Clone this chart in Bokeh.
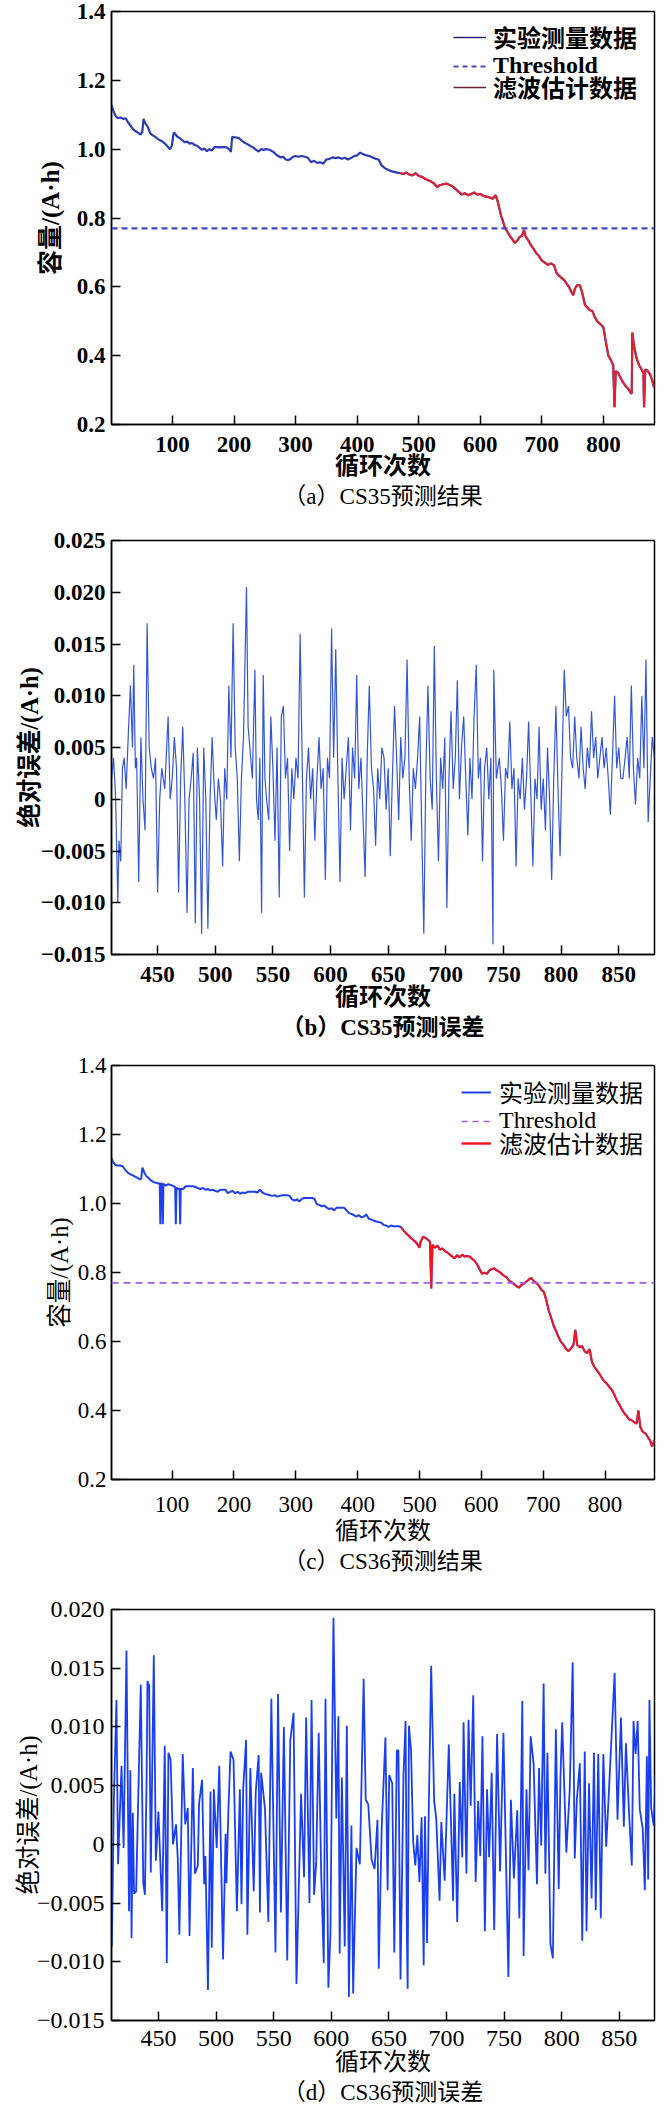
import numpy as np
from bokeh.plotting import figure
from bokeh.layouts import column
from bokeh.models import (FixedTicker, PrintfTickFormatter, Legend, LegendItem,
                          Title, Span)
from bokeh.embed import file_html
from bokeh.resources import INLINE

FONT = "Liberation Serif, Noto Sans CJK SC"

THRESHOLD = 0.77
EST_START = 470  # cycle where the filter estimate begins

# ---------------- CS35 capacity (A·h) ----------------
CS35_CYC = [1, 4, 8, 12, 16, 20, 24, 28, 32, 36, 40, 44, 48, 51, 53, 56, 60, 64, 68, 72,
            76, 80, 84, 88, 92, 96, 99, 102, 104, 108, 112, 116, 120, 124, 128, 132, 136, 140,
            144, 148, 152, 156, 160, 164, 168, 172, 176, 180, 184, 188, 192, 195, 197, 200,
            204, 208, 212, 216, 220, 224, 228, 232, 236, 240, 244, 248, 252, 256, 260, 264,
            268, 272, 276, 280, 284, 288, 292, 296, 300, 305, 310, 315, 320, 325, 330, 335,
            340, 345, 350, 355, 360, 365, 370, 375, 380, 385, 390, 395, 400, 405, 410, 415,
            420, 425, 430, 435, 440, 445, 450, 455, 460, 465, 470, 475, 480, 485, 490, 495,
            500, 505, 510, 515, 520, 525, 530, 535, 540, 545, 550, 555, 560, 565, 570, 575,
            580, 585, 590, 595, 600, 605, 610, 615, 620, 625, 628, 631, 634, 637, 640, 644,
            648, 652, 656, 660, 664, 668, 671, 674, 678, 682, 686, 690, 695, 700, 705, 710,
            715, 720, 724, 728, 732, 736, 740, 744, 748, 751, 754, 758, 762, 766, 770, 774,
            778, 782, 786, 790, 795, 800, 804, 808, 812, 816, 818, 820, 824, 828, 832, 836,
            840, 844, 846, 847, 850, 854, 858, 862, 865, 866, 868, 872, 876, 879, 882]
CS35_CAP = [1.128, 1.112, 1.095, 1.090, 1.092, 1.088, 1.090, 1.078, 1.068, 1.058, 1.052, 1.048,
            1.042, 1.050, 1.088, 1.075, 1.065, 1.046, 1.040, 1.036, 1.030, 1.026, 1.022, 1.016,
            1.008, 1.000, 1.010, 1.048, 1.045, 1.036, 1.032, 1.026, 1.020, 1.022, 1.016, 1.018,
            1.012, 1.010, 1.004, 0.998, 1.002, 0.994, 1.000, 0.996, 1.006, 1.006, 1.005, 1.006,
            1.006, 1.005, 1.000, 0.992, 1.036, 1.034, 1.034, 1.032, 1.026, 1.020, 1.016, 1.012,
            1.008, 1.004, 0.998, 0.993, 1.000, 0.998, 1.000, 0.999, 0.996, 0.992, 0.985, 0.980,
            0.976, 0.978, 0.970, 0.968, 0.972, 0.978, 0.980, 0.978, 0.980, 0.978, 0.975, 0.962,
            0.966, 0.960, 0.962, 0.958, 0.970, 0.972, 0.976, 0.974, 0.976, 0.972, 0.975, 0.970,
            0.974, 0.980, 0.982, 0.990, 0.985, 0.982, 0.980, 0.976, 0.972, 0.970, 0.952, 0.945,
            0.940, 0.936, 0.934, 0.932, 0.930, 0.928, 0.932, 0.926, 0.924, 0.930, 0.922, 0.920,
            0.914, 0.910, 0.906, 0.900, 0.890, 0.896, 0.898, 0.900, 0.896, 0.892, 0.884, 0.876,
            0.868, 0.872, 0.866, 0.870, 0.874, 0.868, 0.870, 0.864, 0.862, 0.860, 0.856, 0.866,
            0.850, 0.828, 0.805, 0.790, 0.772, 0.760, 0.748, 0.738, 0.728, 0.734, 0.745, 0.748,
            0.765, 0.745, 0.735, 0.722, 0.712, 0.700, 0.690, 0.676, 0.670, 0.664, 0.668, 0.662,
            0.640, 0.632, 0.626, 0.620, 0.610, 0.600, 0.585, 0.576, 0.596, 0.606, 0.604, 0.580,
            0.548, 0.540, 0.532, 0.530, 0.512, 0.500, 0.492, 0.482, 0.440, 0.400, 0.388, 0.372,
            0.250, 0.355, 0.350, 0.335, 0.322, 0.312, 0.305, 0.292, 0.290, 0.467, 0.425, 0.392,
            0.372, 0.360, 0.350, 0.250, 0.360, 0.356, 0.345, 0.330, 0.308]

# ---------------- CS35 prediction error ----------------
CS35_ERR_CYC = [410.0, 411.8, 413.6, 415.5, 416.5, 418.0, 419.5, 421.0, 422.7, 424.5, 426.4, 428.2,
                429.3, 430.7, 431.8, 433.6, 435.5, 437.3, 439.1, 440.9, 442.7, 444.5, 446.4, 448.2,
                450.0, 451.8, 453.6, 456.2, 459.1, 460.9, 462.7, 464.5, 466.4, 468.2, 470.0, 471.8,
                473.6, 475.5, 477.3, 479.1, 480.9, 482.7, 484.5, 486.4, 488.2, 490.0, 491.8, 493.6,
                495.5, 497.3, 499.1, 500.9, 502.7, 504.5, 506.4, 508.2, 510.0, 511.8, 513.6, 515.5,
                517.3, 519.1, 520.9, 522.7, 524.5, 527.1, 528.5, 530.0, 532.2, 534.4, 535.8, 537.3,
                538.7, 540.2, 541.6, 543.1, 544.5, 546.4, 548.2, 550.0, 551.8, 553.6, 555.5, 557.3,
                559.1, 560.9, 562.7, 564.5, 566.4, 568.2, 570.0, 571.8, 573.6, 575.5, 577.3, 579.1,
                580.9, 582.7, 584.5, 586.4, 588.2, 590.0, 591.8, 593.6, 595.5, 597.3, 599.1, 600.9,
                602.7, 604.5, 606.4, 608.2, 610.0, 611.8, 613.6, 615.5, 617.3, 619.1, 620.9, 622.7,
                624.5, 626.4, 628.2, 630.0, 631.8, 633.6, 635.5, 637.3, 639.1, 640.9, 642.7, 644.5,
                646.4, 648.2, 650.0, 651.8, 653.6, 655.5, 657.3, 659.1, 660.9, 662.7, 664.5, 666.4,
                668.2, 670.0, 671.8, 673.6, 675.5, 677.3, 679.1, 680.9, 682.7, 684.5, 686.4, 688.2,
                690.0, 691.8, 693.6, 695.5, 697.3, 699.1, 700.9, 702.7, 704.5, 706.4, 708.2, 710.0,
                711.8, 713.6, 715.5, 717.3, 719.1, 720.9, 722.7, 724.5, 726.4, 728.2, 730.0, 731.8,
                733.6, 735.5, 737.3, 739.1, 740.9, 741.6, 743.8, 746.4, 748.2, 750.0, 751.8, 753.6,
                755.5, 757.3, 759.1, 760.9, 762.7, 764.5, 766.4, 768.2, 770.0, 771.8, 773.6, 775.5,
                777.3, 779.1, 780.9, 782.7, 784.5, 786.4, 788.2, 790.0, 791.8, 793.6, 795.5, 797.3,
                799.1, 800.9, 802.7, 804.5, 806.4, 808.2, 810.0, 811.8, 813.6, 815.5, 817.3, 819.1,
                820.9, 822.7, 824.5, 826.4, 828.2, 830.0, 831.8, 833.6, 835.5, 837.3, 839.1, 840.9,
                842.7, 844.5, 846.4, 848.2, 850.0, 851.8, 853.6, 855.5, 857.3, 859.1, 860.9, 862.7,
                864.5, 866.4, 868.2, 870.0, 871.8, 873.6, 875.5, 877.3, 879.1, 880.9]
CS35_ERR = [0.002, 0.004, 0.0, -0.010, -0.004, -0.006, 0.003, 0.004, 0.001, 0.006, 0.011, 0.005,
            0.013, 0.003, 0.004, -0.008, 0.006, 0.0, -0.003, 0.017, 0.005, 0.003, 0.002, 0.004,
            -0.009, 0.0, 0.003, 0.001, 0.008, 0.0, 0.002, 0.006, 0.003, -0.009, 0.002, 0.007,
            0.0, -0.011, 0.0, 0.002, 0.0045, -0.012, 0.005, 0.0, -0.013, 0.005, 0.0, -0.0125,
            0.0, 0.006, 0.001, -0.002, 0.002, 0.0, -0.0065, 0.003, 0.0, 0.011, 0.004, 0.017,
            0.005, 0.002, -0.006, 0.002, 0.006, 0.0205, 0.007, 0.005, 0.002, 0.0125, 0.0, -0.002,
            0.004, -0.011, 0.012, 0.002, 0.0, -0.002, 0.008, 0.003, -0.004, 0.005, -0.0095, 0.008,
            0.009, 0.002, 0.004, -0.005, 0.003, 0.0, 0.004, 0.002, 0.016, 0.003, -0.0095, 0.002,
            0.005, 0.0, 0.003, -0.004, 0.002, 0.006, 0.001, 0.003, -0.0078, 0.004, 0.002, 0.0165,
            0.004, 0.0145, 0.002, -0.008, 0.004, 0.0, 0.003, 0.006, -0.003, 0.005, 0.002, 0.012,
            0.001, 0.004, -0.002, -0.0075, 0.004, 0.011, 0.003, 0.001, -0.0045, 0.003, 0.0, 0.005,
            0.004, -0.001, 0.003, -0.0055, 0.002, 0.009, 0.004, -0.002, 0.006, 0.002, 0.004, 0.0135,
            0.002, -0.004, 0.003, 0.001, 0.004, 0.008, -0.003, -0.013, 0.003, 0.011, 0.002, -0.001,
            0.0148, 0.002, -0.006, 0.004, 0.001, 0.006, -0.0105, 0.002, 0.0085, 0.001, 0.004, 0.0115,
            0.0, 0.005, 0.008, 0.002, -0.0035, 0.004, 0.0, 0.008, 0.013, 0.002, 0.004, -0.006,
            0.003, 0.005, 0.0, 0.004, -0.014, 0.0125, 0.002, 0.004, 0.001, -0.004, 0.003, 0.002,
            0.0075, 0.001, 0.003, -0.0065, 0.002, 0.0, 0.004, -0.001, 0.002, 0.0075, 0.001, -0.0065,
            0.002, 0.0, 0.007, -0.001, 0.002, -0.003, 0.005, 0.0, -0.0078, 0.002, 0.009, 0.001,
            -0.0055, 0.004, 0.0125, 0.008, 0.009, 0.004, 0.003, 0.008, 0.004, 0.002, 0.007, 0.003,
            0.001, 0.005, 0.003, 0.0085, 0.004, 0.006, 0.002, 0.004, 0.006, 0.003, 0.005, 0.002,
            -0.0015, 0.004, 0.010, 0.003, 0.005, 0.002, 0.002, 0.004, 0.006, 0.002, 0.011, 0.003,
            -0.0005, 0.004, 0.002, 0.010, 0.003, 0.0135, -0.0022, 0.002, 0.006, 0.004]

# ---------------- CS36 capacity (A·h) ----------------
CS36_CYC = [1, 4, 8, 12, 16, 20, 24, 28, 32, 36, 40, 44, 48, 50, 52, 55, 58, 62, 66, 70, 74, 78,
            80, 81, 82, 84, 85, 86, 90, 94, 98, 102, 105, 106, 107, 110, 112, 113, 114, 118, 122,
            126, 130, 134, 138, 142, 146, 150, 154, 158, 162, 166, 170, 174, 178, 182, 186, 190,
            194, 198, 202, 206, 210, 214, 218, 222, 226, 230, 234, 238, 242, 246, 250, 254, 258,
            262, 266, 270, 274, 278, 282, 286, 290, 294, 298, 302, 306, 310, 314, 318, 322, 326,
            330, 334, 338, 342, 346, 350, 354, 358, 362, 366, 370, 374, 378, 382, 386, 390, 394,
            398, 402, 406, 410, 414, 418, 422, 426, 430, 434, 438, 442, 446, 450, 454, 458, 462,
            466, 470, 474, 478, 482, 486, 490, 494, 498, 500, 502, 506, 510, 514, 517, 519, 521,
            525, 529, 533, 537, 541, 545, 549, 553, 557, 561, 565, 569, 573, 577, 581, 585, 589,
            593, 597, 601, 605, 609, 613, 617, 621, 625, 629, 633, 637, 641, 645, 649, 653, 657,
            661, 665, 669, 673, 677, 681, 685, 689, 693, 697, 701, 705, 709, 713, 717, 721, 725,
            729, 733, 737, 741, 745, 749, 752, 755, 759, 763, 767, 771, 775, 779, 783, 787, 791,
            795, 799, 803, 807, 811, 815, 819, 823, 827, 831, 835, 839, 843, 847, 851, 854, 857,
            861, 865, 869, 873, 876, 880]
CS36_CAP = [1.135, 1.122, 1.112, 1.110, 1.110, 1.108, 1.098, 1.090, 1.085, 1.082, 1.078, 1.074,
            1.070, 1.072, 1.104, 1.090, 1.080, 1.074, 1.066, 1.062, 1.060, 1.058, 1.058, 0.940,
            1.058, 1.057, 0.940, 1.057, 1.052, 1.056, 1.054, 1.050, 1.048, 0.940, 1.046, 1.042,
            1.044, 0.940, 1.043, 1.042, 1.050, 1.050, 1.050, 1.050, 1.048, 1.044, 1.042, 1.045,
            1.040, 1.042, 1.038, 1.040, 1.036, 1.034, 1.040, 1.040, 1.040, 1.030, 1.034, 1.036,
            1.030, 1.034, 1.028, 1.032, 1.030, 1.034, 1.034, 1.034, 1.034, 1.032, 1.040, 1.032,
            1.028, 1.026, 1.024, 1.022, 1.024, 1.020, 1.022, 1.024, 1.024, 1.024, 1.022, 1.012,
            1.008, 1.012, 1.006, 1.014, 1.016, 1.016, 1.016, 1.016, 1.014, 0.998, 0.996, 0.992,
            0.994, 0.988, 0.984, 0.986, 0.980, 0.988, 0.988, 0.988, 0.988, 0.980, 0.972, 0.970,
            0.966, 0.962, 0.966, 0.960, 0.962, 0.968, 0.956, 0.954, 0.950, 0.948, 0.946, 0.944,
            0.938, 0.936, 0.932, 0.936, 0.934, 0.934, 0.934, 0.932, 0.922, 0.914, 0.908, 0.900,
            0.894, 0.888, 0.878, 0.872, 0.890, 0.904, 0.900, 0.894, 0.890, 0.754, 0.880, 0.872,
            0.878, 0.866, 0.870, 0.862, 0.858, 0.852, 0.846, 0.842, 0.850, 0.844, 0.852, 0.846,
            0.848, 0.846, 0.840, 0.834, 0.824, 0.810, 0.796, 0.800, 0.796, 0.806, 0.810, 0.812,
            0.806, 0.802, 0.796, 0.790, 0.786, 0.776, 0.772, 0.766, 0.760, 0.756, 0.764, 0.768,
            0.774, 0.780, 0.784, 0.774, 0.770, 0.762, 0.750, 0.744, 0.720, 0.690, 0.668, 0.645,
            0.630, 0.612, 0.598, 0.590, 0.578, 0.572, 0.580, 0.590, 0.634, 0.590, 0.584, 0.586,
            0.572, 0.566, 0.578, 0.540, 0.526, 0.516, 0.506, 0.494, 0.484, 0.478, 0.468, 0.460,
            0.446, 0.430, 0.418, 0.404, 0.392, 0.384, 0.374, 0.372, 0.366, 0.362, 0.400, 0.352,
            0.338, 0.334, 0.324, 0.312, 0.296, 0.314]

# ---------------- CS36 prediction error ----------------
CS36_ERR_CYC = [409.6, 411.4, 413.6, 415.0, 418.0, 419.8, 422.3, 424.5, 425.6, 426.7, 427.8, 428.9,
                430.7, 434.7, 436.9, 438.3, 439.8, 440.5, 442.0, 443.4, 446.0, 447.8, 450.0, 453.3,
                455.5, 457.3, 458.7, 460.6, 462.7, 465.3, 466.8, 468.2, 471.1, 473.3, 475.5, 477.0,
                479.9, 481.7, 484.2, 485.3, 487.9, 489.7, 490.8, 493.0, 495.2, 496.3, 498.1, 500.6,
                502.8, 506.1, 508.3, 509.0, 510.8, 512.6, 515.2, 518.1, 520.7, 522.1, 523.6, 526.1,
                527.2, 529.8, 532.7, 534.5, 537.0, 538.1, 539.2, 542.5, 545.4, 548.0, 551.6, 553.8,
                556.3, 558.9, 561.8, 564.4, 567.3, 569.8, 573.8, 576.4, 578.2, 581.1, 582.9, 585.1,
                586.9, 589.1, 591.3, 593.5, 595.0, 597.5, 599.3, 601.9, 604.4, 606.2, 607.3, 609.2,
                611.7, 613.5, 615.3, 617.5, 619.0, 621.9, 624.8, 628.1, 629.9, 632.1, 635.0, 637.6,
                640.1, 641.2, 643.8, 647.0, 648.9, 650.3, 652.9, 654.7, 656.9, 658.3, 660.1, 662.7,
                664.5, 665.6, 666.3, 667.4, 669.2, 671.1, 672.9, 674.7, 676.5, 678.4, 680.2, 681.3,
                683.1, 684.5, 686.7, 689.3, 691.1, 694.0, 695.5, 698.4, 702.0, 703.8, 705.7, 706.8,
                709.3, 711.5, 713.7, 714.8, 717.3, 719.1, 721.0, 723.2, 725.3, 727.5, 729.3, 731.2,
                733.3, 735.2, 737.0, 739.2, 741.4, 743.9, 746.5, 749.4, 753.7, 755.9, 758.5, 761.4,
                763.2, 765.8, 766.9, 769.4, 771.2, 773.0, 775.6, 778.5, 780.3, 782.2, 784.3, 785.8,
                787.6, 790.2, 792.3, 794.9, 797.4, 798.9, 800.4, 804.0, 806.9, 809.5, 811.3, 813.1,
                815.7, 817.8, 820.0, 821.5, 823.7, 825.9, 828.0, 829.5, 831.7, 833.9, 836.1, 838.6,
                842.6, 845.9, 848.4, 851.4, 853.9, 855.7, 858.6, 860.8, 862.3, 864.1, 865.9, 867.7,
                870.3, 872.1, 873.9, 875.0, 876.1, 877.6, 879.8, 881.4]
CS36_ERR = [-0.0087, 0.0040, 0.0123, -0.0017, 0.0067, -0.0003, 0.0165, -0.0057, 0.0063, -0.0080,
            0.0027, -0.0042, -0.0040, 0.0136, -0.0033, -0.0043, 0.0060, 0.0139, 0.0135, -0.0024,
            0.0161, -0.0014, 0.0028, -0.0057, 0.0084, -0.0101, 0.0078, 0.0072, 0.0000, 0.0017,
            -0.0012, -0.0077, 0.0077, 0.0017, 0.0031, -0.0078, 0.0065, -0.0025, -0.0018, 0.0035,
            0.0055, -0.0034, -0.0010, -0.0124, 0.0045, -0.0088, 0.0047, -0.0003, 0.0067, -0.0098,
            0.0009, -0.0033, 0.0031, 0.0079, 0.0072, -0.0057, 0.0047, -0.0051, 0.0048, 0.0089,
            -0.0077, 0.0065, -0.0040, 0.0045, 0.0076, -0.0058, 0.0061, 0.0030, -0.0066, 0.0124,
            -0.0092, 0.0128, -0.0058, 0.0100, -0.0099, 0.0088, 0.0112, -0.0119, 0.0043, -0.0028,
            0.0108, -0.0050, 0.0123, -0.0043, -0.0016, 0.0095, -0.0026, -0.0101, 0.0124, -0.0122,
            -0.0076, 0.0193, 0.0022, 0.0109, -0.0093, 0.0057, -0.0087, 0.0101, -0.0130, 0.0016,
            -0.0127, -0.0003, -0.0017, 0.0141, 0.0038, 0.0034, -0.0013, -0.0021, 0.0021, -0.0106,
            0.0015, 0.0091, -0.0039, 0.0059, 0.0052, -0.0092, 0.0080, 0.0080, -0.0115, 0.0060,
            0.0105, -0.0076, -0.0123, 0.0101, 0.0081, 0.0002, -0.0018, 0.0008, -0.0032, 0.0023,
            -0.0103, 0.0024, -0.0084, 0.0022, 0.0152, 0.0037, 0.0022, -0.0048, 0.0019, -0.0031,
            0.0085, 0.0023, -0.0048, 0.0043, -0.0066, 0.0053, -0.0011, 0.0104, -0.0025, 0.0106,
            0.0033, 0.0127, -0.0032, 0.0037, -0.0010, 0.0092, -0.0074, 0.0047, -0.0011, 0.0061,
            -0.0073, 0.0094, -0.0023, 0.0095, -0.0113, 0.0038, -0.0029, 0.0029, -0.0063, 0.0122,
            -0.0095, 0.0047, -0.0022, 0.0092, 0.0069, -0.0034, 0.0065, -0.0001, 0.0137, -0.0025,
            0.0078, -0.0085, -0.0097, 0.0098, -0.0038, 0.0058, 0.0104, -0.0007, 0.0046, 0.0155,
            -0.0012, 0.0038, 0.0069, -0.0082, 0.0079, -0.0074, 0.0052, -0.0046, 0.0078, -0.0056,
            0.0077, -0.0063, 0.0077, -0.0002, 0.0079, 0.0146, 0.0021, 0.0108, 0.0015, 0.0086,
            0.0023, -0.0018, 0.0105, 0.0077, 0.0105, 0.0030, 0.0013, -0.0039, 0.0075, -0.0030,
            0.0123, 0.0031, 0.0016, 0.0059]

CAP_TICKS = [0.2, 0.4, 0.6, 0.8, 1.0, 1.2, 1.4]
ALL_CYCLE_TICKS = [100, 200, 300, 400, 500, 600, 700, 800]
ERR_CYCLE_TICKS = [450, 500, 550, 600, 650, 700, 750, 800, 850]
ERR_TICKS_B = [-0.015, -0.01, -0.005, 0, 0.005, 0.01, 0.015, 0.02, 0.025]
ERR_LABELS_B = ["\u22120.015", "\u22120.010", "\u22120.005", "0", "0.005", "0.010", "0.015",
                "0.020", "0.025"]
ERR_TICKS_D = [-0.015, -0.01, -0.005, 0, 0.005, 0.01, 0.015, 0.02]
ERR_LABELS_D = ["\u22120.015", "\u22120.010", "\u22120.005", "0", "0.005", "0.010", "0.015",
                "0.020"]

LEGEND_LABELS = ["实验测量数据", "Threshold", "滤波估计数据"]


def make_fig(height, borders, x_range, y_range):
    left, right, top, bottom = borders
    p = figure(width=666, height=height, x_range=x_range, y_range=y_range,
               output_backend="svg", toolbar_location=None,
               min_border_left=left, min_border_right=right,
               min_border_top=top, min_border_bottom=bottom)
    p.grid.visible = False
    p.outline_line_color = "black"
    p.outline_line_width = 1.5
    p.outline_line_alpha = 1.0
    p.background_fill_color = "white"
    p.border_fill_color = "white"
    return p


def style_axes(p, bold, tick_size, xticks, yticks, xlabel, ylabel, ylabel_size,
               y_standoff, x_standoff, ylab_standoff, xlab_standoff):
    style = "bold" if bold else "normal"
    for ax in (p.xaxis[0], p.yaxis[0]):
        ax.axis_line_color = "black"
        ax.axis_line_width = 1.5
        ax.major_tick_line_color = "black"
        ax.major_tick_line_width = 1.5
        ax.major_tick_in = 9
        ax.major_tick_out = 0
        ax.minor_tick_line_color = None
        ax.major_label_text_font = FONT
        ax.major_label_text_font_size = tick_size
        ax.major_label_text_font_style = style
        ax.major_label_text_color = "black"
        ax.axis_label_text_font = FONT
        ax.axis_label_text_font_style = style
        ax.axis_label_text_color = "black"
    p.xaxis.axis_label_text_font_size = "24px"
    p.yaxis.axis_label_text_font_size = ylabel_size
    p.xaxis.ticker = FixedTicker(ticks=xticks)
    p.yaxis.ticker = FixedTicker(ticks=yticks)
    p.xaxis.axis_label = xlabel
    p.yaxis.axis_label = ylabel
    p.yaxis.major_label_standoff = y_standoff
    p.xaxis.major_label_standoff = x_standoff
    p.yaxis.axis_label_standoff = ylab_standoff
    p.xaxis.axis_label_standoff = xlab_standoff


def add_caption(p, text, standoff, bold, size="23px"):
    p.add_layout(Title(text=text, align="center", offset=3, standoff=standoff,
                       text_font=FONT, text_font_size=size,
                       text_font_style="bold" if bold else "normal",
                       text_color="black"), "below")


def add_legend(p, colors, widths, dash, x, rows_y, glyph_w, standoff, bold):
    # one single-row legend per entry so that the row pitch is set exactly
    for lab, c, w, d, y in zip(LEGEND_LABELS, colors, widths, ["solid", dash, "solid"], rows_y):
        # legend-only renderer: nothing is drawn in the plot area
        r = p.line(x=np.array([np.nan]), y=np.array([np.nan]),
                   line_color=c, line_width=w, line_dash=d)
        lg = Legend(items=[LegendItem(label=lab, renderers=[r])], location=(x, y),
                    border_line_color=None, background_fill_alpha=0, padding=0, margin=0,
                    spacing=0, glyph_width=glyph_w, glyph_height=18, label_height=18,
                    label_standoff=standoff, label_text_font=FONT,
                    label_text_font_size="24px",
                    label_text_font_style="bold" if bold else "normal",
                    label_text_color="black")
        p.add_layout(lg)


def split_estimate(cyc, cap):
    xs = [c for c in cyc if c >= EST_START]
    ys = [v for c, v in zip(cyc, cap) if c >= EST_START]
    return xs, ys


# ---- (a) CS35 capacity ----
pa = make_fig(528, (107, 7, 11, 104), (1, 883), (0.2, 1.4))
pa.line(CS35_CYC, CS35_CAP, line_color="#2a3cb8", line_width=2.2)
ex, ey = split_estimate(CS35_CYC, CS35_CAP)
pa.line(ex, ey, line_color="#e8202a", line_width=2.0)
pa.add_layout(Span(location=THRESHOLD, dimension="width", line_color="#4848c4",
                   line_width=2.2, line_dash="6 4"))
style_axes(pa, True, "23px", ALL_CYCLE_TICKS, CAP_TICKS, "循环次数", "容量/(A·h)", "25px",
           6, 12, 10, -2)
pa.yaxis.formatter = PrintfTickFormatter(format="%.1f")
add_legend(pa, ["#2a2a6e", "#4a4ab8", "#6e2035"], [1.5, 2, 1.5], "5 4", 342,
           [370, 345, 320], 33, 7, True)
add_caption(pa, "（a）CS35预测结果", 0, False)

# ---- (b) CS35 error ----
pb = make_fig(517, (107, 8, 12, 91), (410, 881), (-0.015, 0.025))
pb.line(CS35_ERR_CYC, CS35_ERR, line_color="#3456d6", line_width=1.2)
style_axes(pb, True, "23px", ERR_CYCLE_TICKS, ERR_TICKS_B, "循环次数", "绝对误差/(A·h)",
           "24.5px", 6, 12, -5, -1)
pb.yaxis.major_label_overrides = dict(zip(ERR_TICKS_B, ERR_LABELS_B))
add_caption(pb, "（b）CS35预测误差", 0, True)

# ---- (c) CS36 capacity ----
pc = make_fig(535, (111, 1, 20, 101), (2, 880), (0.2, 1.4))
pc.line(CS36_CYC, CS36_CAP, line_color="#1e40f5", line_width=2)
ex, ey = split_estimate(CS36_CYC, CS36_CAP)
pc.line(ex, ey, line_color="#f5141e", line_width=2)
pc.add_layout(Span(location=THRESHOLD, dimension="width", line_color="#a25cf5",
                   line_width=1.6, line_dash="7 5"))
style_axes(pc, False, "23px", ALL_CYCLE_TICKS, CAP_TICKS, "循环次数", "容量/(A·h)", "24.5px",
           5, 17, 2, 3)
pc.yaxis.formatter = PrintfTickFormatter(format="%.1f")
add_legend(pc, ["#1e40f5", "#a25cf5", "#f5141e"], [2, 1.6, 2.4], "6 5", 350,
           [370, 345, 319], 30, 8, False)
add_caption(pc, "（c）CS36预测结果", 0, False)

# ---- (d) CS36 error ----
pd_ = make_fig(526, (105, 12, 29, 86), (409.3, 880.5), (-0.015, 0.02))
pd_.line(CS36_ERR_CYC, CS36_ERR, line_color="#1a3ef2", line_width=1.8)
style_axes(pd_, False, "24px", ERR_CYCLE_TICKS, ERR_TICKS_D, "循环次数", "绝对误差/(A·h)",
           "24.5px", 7, 10, -8, 0)
pd_.yaxis.major_label_overrides = dict(zip(ERR_TICKS_D, ERR_LABELS_D))
add_caption(pd_, "（d）CS36预测误差", 0, False)

layout = column(pa, pb, pc, pd_, spacing=0)
open("out.html", "w").write(file_html(layout, INLINE))
